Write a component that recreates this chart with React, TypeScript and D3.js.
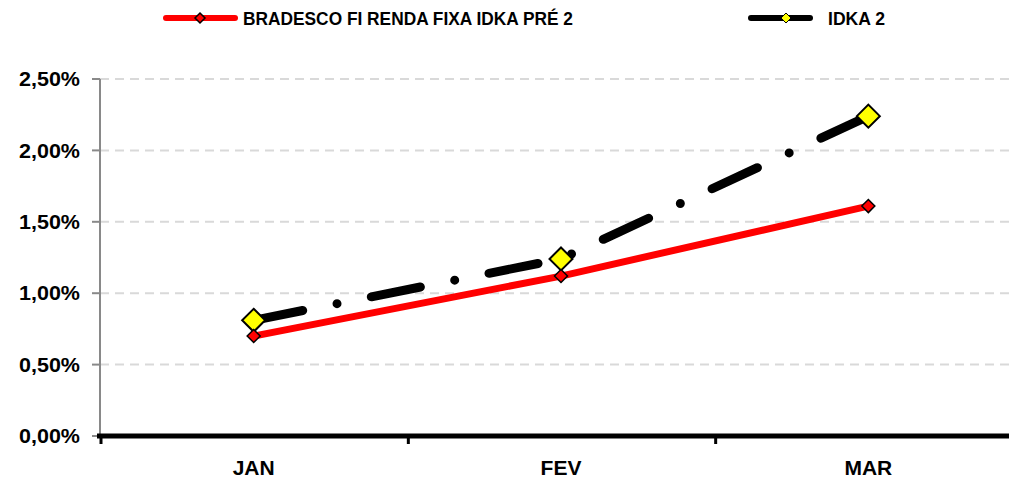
import React from 'react';
import * as d3 from 'd3';

const months = ['JAN', 'FEV', 'MAR'];
const fundValues = [0.70, 1.12, 1.61];
const idkaValues = [0.81, 1.24, 2.24];
const yTicks = [0, 0.5, 1.0, 1.5, 2.0, 2.5];

const seriesNames = ['BRADESCO FI RENDA FIXA IDKA PRÉ 2', 'IDKA 2'];

const FONT = '"Liberation Sans", Arial, sans-serif';

const diamond = (cx: number, cy: number, r: number) =>
  `M${cx},${cy - r}L${cx + r},${cy}L${cx},${cy + r}L${cx - r},${cy}Z`;

const App: React.FC = () => {
  const width = 1009;
  const height = 480;
  const left = 100;
  const right = 1022;
  const top = 79;
  const bottom = 436;

  const x = d3.scaleBand<string>().domain(months).range([left, right]).padding(0);
  const y = d3.scaleLinear().domain([0, 2.5]).range([bottom, top]);
  const cx = (m: string) => (x(m) || 0) + x.bandwidth() / 2;

  const line = d3
    .line<number>()
    .x((_, i) => cx(months[i]))
    .y((d) => y(d));

  const fmt = (v: number) => v.toFixed(2).replace('.', ',') + '%';

  return (
    <div style={{ position: 'absolute', left: 0, top: 0 }}>
      <svg width={width} height={height} style={{ display: 'block', background: '#fff' }}>
        {/* gridlines */}
        {yTicks.filter((t) => t > 0).map((t) => (
          <line key={t} x1={left} x2={right} y1={y(t)} y2={y(t)}
            stroke="#d9d9d9" strokeWidth={2} strokeDasharray="9,6" />
        ))}

        {/* y axis */}
        <line x1={left} x2={left} y1={top} y2={bottom} stroke="#898989" strokeWidth={2} />
        {yTicks.map((t) => (
          <g key={t}>
            <line x1={left - 8} x2={left} y1={y(t)} y2={y(t)} stroke="#898989" strokeWidth={2} />
            <text x={80} y={y(t)} dy="0.36em" textAnchor="end" fontFamily={FONT}
              fontWeight="bold" fontSize={20} textLength={61} lengthAdjust="spacingAndGlyphs">
              {fmt(t)}
            </text>
          </g>
        ))}

        {/* x axis */}
        <line x1={left - 3} x2={right} y1={bottom} y2={bottom} stroke="#000" strokeWidth={5} />
        {months.map((m) => (
          <line key={m} x1={(x(m) || 0) + 1} x2={(x(m) || 0) + 1} y1={bottom} y2={bottom + 8}
            stroke="#000" strokeWidth={3} />
        ))}
        {months.map((m) => (
          <text key={m} x={cx(m)} y={475} textAnchor="middle" fontFamily={FONT}
            fontWeight="bold" fontSize={21}>
            {m}
          </text>
        ))}

        {/* IDKA 2 */}
        <path d={line(idkaValues) || ''} fill="none" stroke="#000" strokeWidth={9}
          strokeLinecap="round" strokeDasharray="50,35,0,35" />
        {idkaValues.map((v, i) => (
          <path key={i} d={diamond(cx(months[i]), y(v), 11.5)} fill="#ffff00"
            stroke="#000" strokeWidth={2} strokeLinejoin="miter" />
        ))}

        {/* Fund */}
        <path d={line(fundValues) || ''} fill="none" stroke="#ff0000" strokeWidth={7} />
        {fundValues.map((v, i) => (
          <path key={i} d={diamond(cx(months[i]), y(v), 6.5)} fill="#ff0000"
            stroke="#000" strokeWidth={1.5} />
        ))}

        {/* legend */}
        <line x1={166} x2={235} y1={18} y2={18} stroke="#ff0000" strokeWidth={6} strokeLinecap="round" />
        <path d={diamond(200, 18, 5)} fill="#ff0000" stroke="#000" strokeWidth={1.5} />
        <text x={243} y={24.5} fontFamily={FONT} fontWeight="bold" fontSize={18}
          textLength={330} lengthAdjust="spacingAndGlyphs">
          {seriesNames[0]}
        </text>

        <line x1={751} x2={810} y1={18} y2={18} stroke="#000" strokeWidth={6} strokeLinecap="round" />
        <path d={diamond(786, 18, 5)} fill="#ffff00" stroke="#000" strokeWidth={1} />
        <text x={828} y={24.5} fontFamily={FONT} fontWeight="bold" fontSize={18}
          textLength={57} lengthAdjust="spacingAndGlyphs">
          {seriesNames[1]}
        </text>
      </svg>
    </div>
  );
};

export default App;
